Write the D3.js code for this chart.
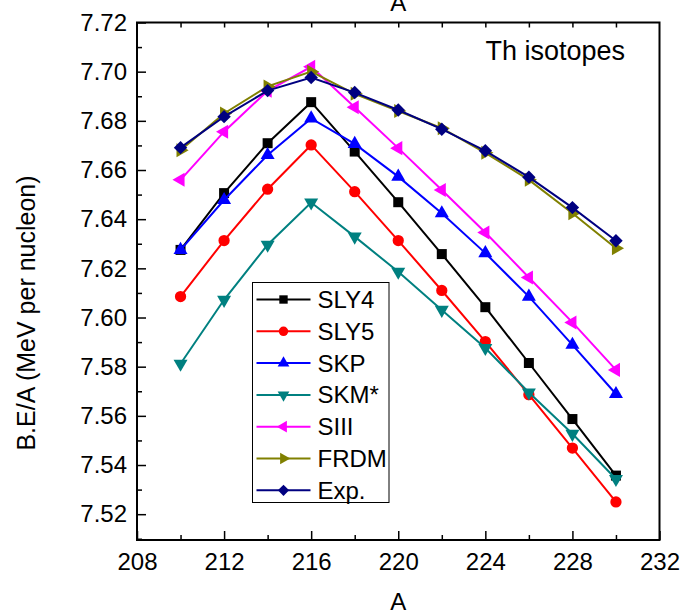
<!DOCTYPE html>
<html>
<head>
<meta charset="utf-8">
<script src="https://cdn.jsdelivr.net/npm/d3@7"></script>
<style>
  body { margin: 0; background: #fff; }
  text { font-family: "Liberation Sans", Arial, sans-serif; fill: #000; }
</style>
</head>
<body>
<svg id="chart" width="681" height="614"></svg>
<script>
// mass numbers
const massNumbers = [210, 212, 214, 216, 218, 220, 222, 224, 226, 228, 230];

// binding energy per nucleon, one array per model
const sly4 = [7.6275, 7.6506, 7.6709, 7.6876, 7.6675, 7.6469, 7.6258, 7.6042, 7.5815, 7.5587, 7.5357];
const sly5 = [7.6085, 7.6313, 7.6522, 7.6702, 7.6512, 7.6313, 7.6110, 7.5902, 7.5686, 7.5469, 7.5250];
const skp  = [7.6275, 7.6478, 7.6661, 7.6810, 7.6706, 7.6573, 7.6424, 7.6262, 7.6085, 7.5889, 7.5689];
const skm  = [7.5812, 7.6072, 7.6296, 7.6468, 7.6329, 7.6186, 7.6031, 7.5876, 7.5695, 7.5527, 7.5343];
const siii = [7.6560, 7.6756, 7.6922, 7.7020, 7.6855, 7.6689, 7.6519, 7.6346, 7.6163, 7.5980, 7.5787];
const frdm = [7.6680, 7.6830, 7.6940, 7.7000, 7.6910, 7.6840, 7.6770, 7.6670, 7.6560, 7.6424, 7.6282];
const expt = [7.6691, 7.6817, 7.6923, 7.6976, 7.6915, 7.6844, 7.6766, 7.6678, 7.6571, 7.6447, 7.6312];

const seriesNames = ["SLY4", "SLY5", "SKP", "SKM*", "SIII", "FRDM", "Exp."];
const seriesValues = [sly4, sly5, skp, skm, siii, frdm, expt];
const seriesColors = ["#000000", "#ff0000", "#0000ff", "#008080", "#ff00ff", "#808000", "#000080"];
const seriesMarkers = ["square", "circle", "up", "down", "left", "right", "diamond"];

const xTicks = [208, 212, 216, 220, 224, 228, 232];
const yTicks = [7.52, 7.54, 7.56, 7.58, 7.60, 7.62, 7.64, 7.66, 7.68, 7.70, 7.72];

const margin = { top: 22.5, right: 21.5, bottom: 74, left: 137 };
const width = 681 - margin.left - margin.right;
const height = 614 - margin.top - margin.bottom;

const svg = d3.select("#chart")
  .append("g")
  .attr("transform", `translate(${margin.left}, ${margin.top})`);

const x = d3.scaleLinear().domain([208, 232]).range([0, width]);
const y = d3.scaleLinear().domain([7.5095, 7.72]).range([height, 0]);

// minor ticks first
svg.append("g")
  .attr("transform", `translate(0, ${height})`)
  .call(d3.axisBottom(x).tickValues(d3.range(210, 232, 4)).tickSize(-5).tickFormat(""));
svg.append("g")
  .call(d3.axisTop(x).tickValues(d3.range(210, 232, 2)).tickSize(-5).tickFormat(""));
svg.append("g")
  .call(d3.axisLeft(y).tickValues(d3.range(7.51, 7.72, 0.02)).tickSize(-5).tickFormat(""));

// major ticks
svg.append("g")
  .attr("class", "x-axis")
  .attr("transform", `translate(0, ${height})`)
  .call(d3.axisBottom(x).tickValues(xTicks).tickSize(-9).tickPadding(13).tickFormat(d3.format("d")));
svg.append("g")
  .attr("class", "y-axis")
  .call(d3.axisLeft(y).tickValues(yTicks).tickSize(-9).tickPadding(10).tickFormat(d3.format(".2f")));

svg.selectAll(".domain").remove();
svg.selectAll(".tick line").attr("stroke", "#000").attr("stroke-width", 1.5);
svg.selectAll(".tick text").style("font-size", "24px").style("font-family", "Liberation Sans, Arial, sans-serif");

// frame
svg.append("rect")
  .attr("width", width)
  .attr("height", height)
  .attr("fill", "none")
  .attr("stroke", "#000")
  .attr("stroke-width", 2);

// axis titles (the top one is clipped by the page edge, as in the original)
svg.append("text")
  .attr("x", x(220))
  .attr("y", height + 70)
  .attr("text-anchor", "middle")
  .style("font-size", "24px")
  .text("A");
svg.append("text")
  .attr("x", x(220))
  .attr("y", -12)
  .attr("text-anchor", "middle")
  .style("font-size", "24px")
  .text("A");
svg.append("text")
  .attr("transform", `translate(${35 - margin.left}, ${313 - margin.top}) rotate(-90)`)
  .attr("text-anchor", "middle")
  .style("font-size", "25px")
  .text("B.E/A (MeV per nucleon)");

svg.append("text")
  .attr("x", 625 - margin.left)
  .attr("y", 60 - margin.top)
  .attr("text-anchor", "end")
  .style("font-size", "27px")
  .text("Th isotopes");

// marker paths
const markerPath = (kind, s) => {
  switch (kind) {
    case "square": return d3.symbol(d3.symbolSquare, 100 * s)();
    case "circle": return d3.symbol(d3.symbolCircle, 100 * s)();
    case "diamond": return d3.symbol(d3.symbolSquare, 90 * s)();
    default: return d3.symbol(d3.symbolTriangle, 85 * s)();
  }
};
const markerRotate = (kind) => ({ down: 180, left: -90, right: 90, diamond: 45 }[kind] || 0);

const line = d3.line().x((d, i) => x(massNumbers[i])).y((d) => y(d));

seriesValues.forEach((vals, k) => {
  const g = svg.append("g").attr("class", "series");
  g.append("path")
    .datum(vals)
    .attr("d", line)
    .attr("fill", "none")
    .attr("stroke", seriesColors[k])
    .attr("stroke-width", 2);
  g.selectAll("path.marker")
    .data(vals)
    .enter()
    .append("path")
    .attr("class", "marker")
    .attr("d", markerPath(seriesMarkers[k], 1))
    .attr("transform", (d, i) => `translate(${x(massNumbers[i])}, ${y(d)}) rotate(${markerRotate(seriesMarkers[k])})`)
    .attr("fill", seriesColors[k]);
});

// legend
const legend = svg.append("g")
  .attr("transform", `translate(${252.5 - margin.left}, ${282.5 - margin.top})`);
legend.append("rect")
  .attr("width", 136.5)
  .attr("height", 220)
  .attr("fill", "#fff")
  .attr("stroke", "#000")
  .attr("stroke-width", 1);

seriesNames.forEach((name, k) => {
  const row = legend.append("g").attr("transform", `translate(0, ${17 + k * 31.8})`);
  row.append("line")
    .attr("x1", 4).attr("x2", 58)
    .attr("stroke", seriesColors[k])
    .attr("stroke-width", 2);
  row.append("path")
    .attr("d", markerPath(seriesMarkers[k], 0.7))
    .attr("transform", `translate(31, 0) rotate(${markerRotate(seriesMarkers[k])})`)
    .attr("fill", seriesColors[k]);
  row.append("text")
    .attr("x", 65)
    .attr("y", 8.5)
    .style("font-size", "24px")
    .text(name);
});
</script>
</body>
</html>
